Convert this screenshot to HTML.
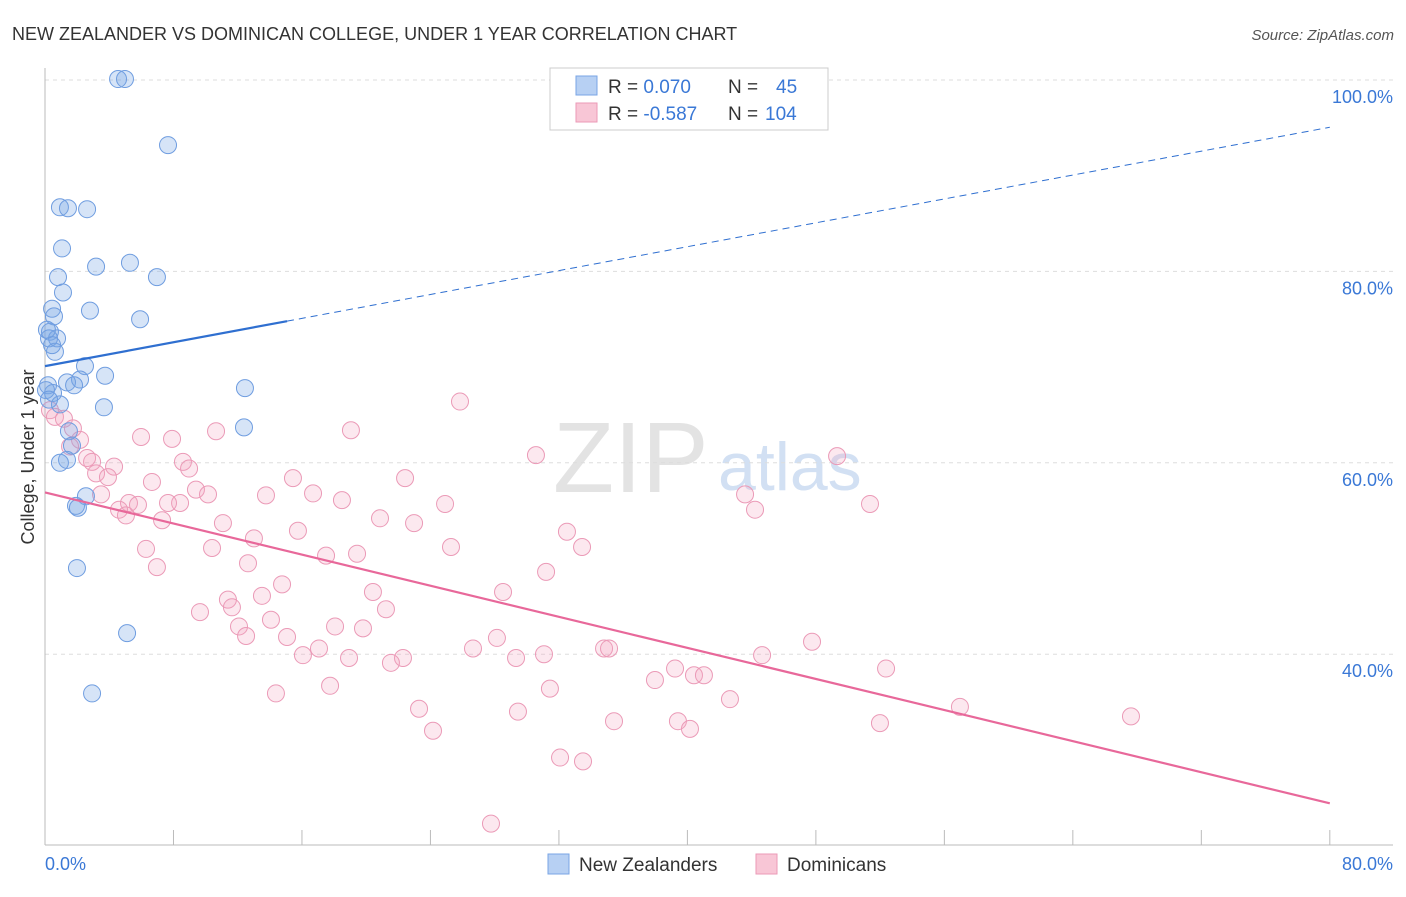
<!DOCTYPE html>
<html><head><meta charset="utf-8">
<style>
body{margin:0;background:#fff;font-family:"Liberation Sans",sans-serif;}
svg text{font-family:"Liberation Sans",sans-serif;}
</style></head>
<body>
<svg id="chart" width="1406" height="892" viewBox="0 0 1406 892" xmlns="http://www.w3.org/2000/svg">
<text x="12" y="40" font-size="18" fill="#333">NEW ZEALANDER VS DOMINICAN COLLEGE, UNDER 1 YEAR CORRELATION CHART</text>
<text x="1394" y="40" font-size="15" fill="#555" font-style="italic" text-anchor="end">Source: ZipAtlas.com</text>
<g>
<text x="553" y="492" font-size="100" fill="#e3e3e3" font-family="Liberation Serif,serif">ZIP</text>
<text x="718" y="490" font-size="68" fill="#d2e0f3">atlas</text>
</g>
<g id="grid"></g>
<g id="axes"></g>
<g id="marks"></g>
<g>
<rect x="550" y="68" width="278" height="62" fill="#fff" stroke="#ccc"/>
<rect x="576" y="76" width="21" height="19" fill="#b7d0f3" stroke="#7aa5e4"/>
<rect x="576" y="103" width="21" height="19" fill="#f8c6d6" stroke="#eb9ab7"/>
<text x="608" y="93" font-size="19" fill="#333">R = <tspan fill="#3a78d6"> 0.070</tspan><tspan x="728">N = </tspan><tspan fill="#3a78d6" x="776">45</tspan></text>
<text x="608" y="120" font-size="19" fill="#333">R = <tspan fill="#3a78d6">-0.587</tspan><tspan x="728">N = </tspan><tspan fill="#3a78d6" x="765">104</tspan></text>
</g>
<g>
<rect x="548" y="854" width="21" height="20" fill="#b7d0f3" stroke="#7aa5e4"/>
<text x="579" y="871" font-size="19" fill="#333">New Zealanders</text>
<rect x="756" y="854" width="21" height="20" fill="#f8c6d6" stroke="#eb9ab7"/>
<text x="787" y="871" font-size="19" fill="#333">Dominicans</text>
</g>
<text transform="translate(34,457) rotate(-90)" font-size="18" fill="#333" text-anchor="middle">College, Under 1 year</text>
</svg>
<script>
const yTicks=[100,80,60,40];
const yTickLabels=["100.0%","80.0%","60.0%","40.0%"];
const xTicks=[0,8,16,24,32,40,48,56,64,72,80];
const xEndLabels=["0.0%","80.0%"];
const blueX=[4.55,4.98,7.66,0.93,1.43,2.62,1.06,3.18,5.29,6.97,0.81,1.12,2.80,5.92,0.44,0.56,0.31,0.75,0.25,0.62,2.49,3.74,2.18,1.37,1.81,0.19,12.45,0.50,0.93,3.67,12.39,1.49,1.68,1.37,0.93,2.55,1.93,2.05,1.99,5.11,2.93,0.44,0.06,0.12,0.25];
const blueY=[100.1,100.1,93.2,86.7,86.6,86.5,82.4,80.5,80.9,79.4,79.4,77.8,75.9,75.0,76.1,75.3,73.7,73.0,73.0,71.6,70.1,69.1,68.7,68.4,68.1,68.1,67.8,67.3,66.1,65.8,63.7,63.3,61.8,60.3,60.0,56.5,55.5,55.3,49.0,42.2,35.9,72.3,67.6,73.9,66.6];
const pinkX=[25.84,0.31,0.62,1.18,1.74,2.18,1.56,5.98,7.91,10.65,19.05,30.57,49.32,2.62,2.93,8.59,4.30,8.97,3.18,3.92,15.44,22.42,6.66,9.40,10.15,3.49,13.76,16.69,18.49,24.91,5.23,5.79,8.41,7.66,51.37,43.59,44.21,4.61,5.04,7.29,11.08,20.86,22.98,15.75,32.50,13.01,33.44,25.28,10.40,6.29,17.50,19.43,12.64,6.97,31.20,14.76,20.42,13.51,28.52,11.39,11.64,9.65,21.23,14.07,12.08,12.52,18.06,19.80,15.07,28.14,17.06,22.29,26.65,16.06,18.93,21.54,29.33,31.07,34.81,35.12,44.65,47.76,39.23,52.37,37.98,40.41,41.03,17.75,14.38,31.44,42.65,56.97,67.62,23.29,29.45,35.43,39.41,51.99,40.16,24.16,32.07,33.50,27.77];
const pinkY=[66.4,65.5,64.8,64.6,63.6,62.4,61.7,62.7,62.5,63.3,63.4,60.8,60.7,60.5,60.1,60.1,59.6,59.4,58.9,58.5,58.4,58.4,58.0,57.2,56.7,56.7,56.6,56.8,56.1,55.7,55.8,55.6,55.8,55.8,55.7,56.7,55.1,55.1,54.5,54.0,53.7,54.2,53.7,52.9,52.8,52.1,51.2,51.2,51.1,51.0,50.3,50.5,49.5,49.1,48.6,47.3,46.5,46.1,46.5,45.7,44.9,44.4,44.7,43.6,42.9,41.9,42.9,42.7,41.8,41.7,40.6,39.6,40.6,39.9,39.6,39.1,39.6,40.0,40.6,40.6,39.9,41.3,38.5,38.5,37.3,37.8,37.8,36.7,35.9,36.4,35.3,34.5,33.5,34.3,34.0,33.0,33.0,32.8,32.2,32.0,29.2,28.8,22.3];
const blueTrend=[70.1,0.312];   // intercept, slope
const blueSolidEnd=[15.07];
const pinkTrend=[56.9,-0.406];

const NS="http://www.w3.org/2000/svg";
function xs(v){return 45+v*16.06;}
function ys(v){return 80+(100-v)*9.57;}
function mk(tag,attrs,parent){const e=document.createElementNS(NS,tag);for(const k in attrs)e.setAttribute(k,attrs[k]);parent.appendChild(e);return e;}
const grid=document.getElementById('grid'),axes=document.getElementById('axes'),marks=document.getElementById('marks');
yTicks.forEach((t,i)=>{
 const l=mk('line',{x1:45,x2:1393,y1:ys(t),y2:ys(t),stroke:'#ddd','stroke-dasharray':'4,4'},grid);
 
 
 const tx=mk('text',{x:1393,y:ys(t)+23,'font-size':18,fill:'#3a78d6','text-anchor':'end'},axes);
 tx.textContent=yTickLabels[i];
 
 
});
const ax=mk('line',{x1:45,x2:1393,y1:845,y2:845,stroke:'#bbb'},axes);


const ay=mk('line',{x1:45,x2:45,y1:68,y2:845,stroke:'#bbb'},axes);


xTicks.forEach(t=>{
 const l=mk('line',{x1:xs(t),x2:xs(t),y1:830,y2:845,stroke:'#bbb'},axes);
 
 
});
const xl0=mk('text',{x:45,y:870,'font-size':18,fill:'#3a78d6'},axes);xl0.textContent=xEndLabels[0];


const xl1=mk('text',{x:1393,y:870,'font-size':18,fill:'#3a78d6','text-anchor':'end'},axes);xl1.textContent=xEndLabels[1];



pinkX.forEach((v,i)=>{
 const c=mk('circle',{cx:xs(v),cy:ys(pinkY[i]),r:8.5,fill:'rgba(243,165,192,0.25)',stroke:'#eb9ab7','stroke-width':1},marks);
 
 
});
blueX.forEach((v,i)=>{
 const c=mk('circle',{cx:xs(v),cy:ys(blueY[i]),r:8.5,fill:'rgba(120,165,230,0.3)',stroke:'#6f9de0','stroke-width':1},marks);
 
 
});
const bt=x=>blueTrend[0]+blueTrend[1]*x, pt=x=>pinkTrend[0]+pinkTrend[1]*x;
const b1=mk('line',{x1:xs(0),y1:ys(bt(0)),x2:xs(blueSolidEnd[0]),y2:ys(bt(blueSolidEnd[0])),stroke:'#2f6fd0','stroke-width':2.2},marks);


const b2=mk('line',{x1:xs(blueSolidEnd[0]),y1:ys(bt(blueSolidEnd[0])),x2:xs(80),y2:ys(bt(80)),stroke:'#2f6fd0','stroke-width':1,'stroke-dasharray':'7,5'},marks);


const p1=mk('line',{x1:xs(0),y1:ys(pt(0)),x2:xs(80),y2:ys(pt(80)),stroke:'#e8689a','stroke-width':2.2},marks);


</script>
</body></html>
